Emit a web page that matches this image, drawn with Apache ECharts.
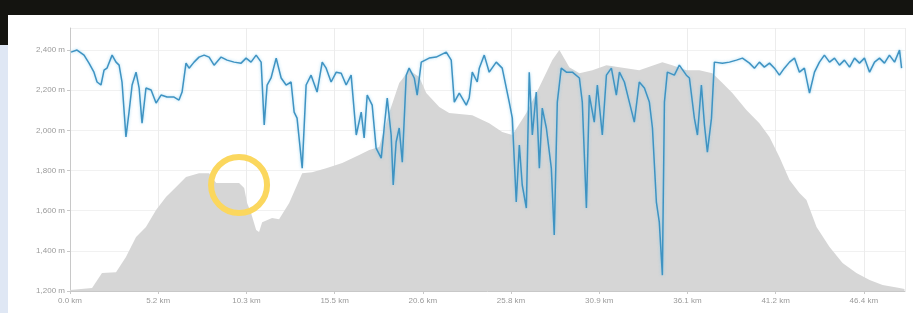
<!DOCTYPE html>
<html lang="en">
<head>
    <meta charset="UTF-8">
    <title>Elevation profile</title>
    <script src="https://cdn.jsdelivr.net/npm/echarts@6/dist/echarts.min.js"></script>
    <style>
        html, body { margin: 0; padding: 0; }
        body { width: 913px; height: 313px; position: relative; overflow: hidden; background: #dfe7f4; }
        #topbar { position: absolute; left: 0; top: 0; width: 913px; height: 15px; background: #141410; }
        #leftdark { position: absolute; left: 0; top: 15px; width: 8px; height: 30px; background: #141410; }
        #chart { position: absolute; left: 8px; top: 15px; width: 905px; height: 298px; background: #fff; }
    </style>
</head>
<body>
<div id="topbar"></div>
<div id="leftdark"></div>
<div id="chart"></div>
<script>
    // distance (km) / elevation (m) of the grey profile
    var elevKm = [0.0, 1.29, 1.87, 2.69, 3.27, 3.86, 4.44, 5.03, 5.61, 6.20, 6.78, 7.54, 8.13, 8.54, 9.88,
        10.18, 10.35, 10.58, 10.88, 11.05, 11.23, 11.81, 12.22, 12.81, 13.22, 13.57, 14.15, 14.97, 15.91,
        16.90, 17.49, 18.07, 18.65, 19.24, 19.82, 20.41, 20.82, 21.58, 22.16, 23.51, 24.50, 25.26, 25.85,
        26.67, 27.43, 28.19, 28.60, 29.18, 29.77, 30.53, 31.35, 32.11, 33.27, 34.62, 35.20, 36.02, 36.78,
        37.54, 38.13, 38.71, 39.53, 40.29, 40.88, 41.46, 42.05, 42.63, 43.04, 43.63, 44.39, 45.15, 45.96,
        46.73, 47.49, 48.48, 48.77];
    var elevM = [1205, 1215, 1290, 1294, 1369, 1469, 1519, 1603, 1668, 1718, 1768, 1787, 1787, 1738, 1738,
        1713, 1638, 1588, 1504, 1494, 1543, 1563, 1558, 1638, 1718, 1787, 1792, 1812, 1837,
        1877, 1902, 1917, 2086, 2236, 2300, 2266, 2186, 2116, 2086, 2076, 2036, 1992, 1977,
        2086, 2216, 2350, 2400, 2315, 2285, 2300, 2325, 2315, 2300, 2340, 2325, 2300, 2300,
        2285, 2236, 2186, 2101, 2036, 1967, 1867, 1753, 1688, 1653, 1519, 1419, 1339, 1290,
        1255, 1230, 1215, 1210];

    // blue trace
    var traceKm = [0.06, 0.41, 0.82, 1.11, 1.40, 1.58, 1.81, 1.99, 2.16, 2.46, 2.69, 2.87, 3.04, 3.27, 3.45,
        3.63, 3.86, 4.04, 4.21, 4.44, 4.74, 5.03, 5.32, 5.67, 6.08, 6.37, 6.55, 6.78, 6.96, 7.25, 7.54,
        7.84, 8.13, 8.42, 8.83, 9.18, 9.59, 10.00, 10.29, 10.58, 10.88, 11.17, 11.35, 11.52, 11.75,
        12.05, 12.34, 12.63, 12.92, 13.10, 13.27, 13.57, 13.80, 14.09, 14.44, 14.74, 14.97, 15.26, 15.56,
        15.85, 16.14, 16.43, 16.73, 17.02, 17.19, 17.37, 17.66, 17.89, 18.19, 18.36, 18.54, 18.77, 18.89,
        19.06, 19.24, 19.42, 19.65, 19.82, 20.12, 20.29, 20.53, 20.99, 21.40, 21.99, 22.28, 22.46, 22.75,
        23.16, 23.33, 23.51, 23.80, 23.92, 24.21, 24.50, 24.91, 25.26, 25.67, 25.85, 26.08, 26.26, 26.43,
        26.67, 26.84, 27.02, 27.25, 27.43, 27.60, 27.84, 28.13, 28.30, 28.48, 28.71, 29.01, 29.36, 29.77,
        29.94, 30.18, 30.35, 30.64, 30.82, 31.11, 31.35, 31.64, 31.93, 32.11, 32.40, 32.69, 32.98, 33.27,
        33.57, 33.86, 34.04, 34.27, 34.44, 34.62, 34.74, 34.91, 35.32, 35.61, 36.02, 36.20, 36.49, 36.67,
        36.90, 37.08, 37.25, 37.49, 37.66, 38.13, 38.54, 38.95, 39.30, 39.71, 40.00, 40.29, 40.58, 40.88,
        41.17, 41.46, 41.75, 42.05, 42.34, 42.63, 42.92, 43.22, 43.51, 43.80, 44.09, 44.39, 44.68, 44.97,
        45.26, 45.56, 45.85, 46.14, 46.43, 46.73, 47.02, 47.31, 47.60, 47.89, 48.19, 48.48, 48.60];
    var traceM = [2390, 2400, 2375, 2335, 2290, 2241, 2226, 2300, 2310, 2375, 2340, 2325, 2241, 1967, 2091,
        2226, 2290, 2211, 2036, 2211, 2201, 2136, 2176, 2166, 2166, 2151, 2191, 2335, 2310, 2340, 2365,
        2375, 2365, 2325, 2365, 2350, 2340, 2335, 2360, 2340, 2375, 2340, 2027, 2226, 2261,
        2360, 2261, 2226, 2241, 2091, 2061, 1812, 2226, 2275, 2191, 2340, 2310, 2241, 2290,
        2285, 2226, 2275, 1977, 2091, 1962, 2176, 2126, 1912, 1862, 2012, 2161, 1977, 1728,
        1942, 2012, 1842, 2275, 2310, 2261, 2176, 2340, 2360, 2365, 2390, 2350, 2141, 2186,
        2126, 2161, 2290, 2241, 2310, 2375, 2290, 2340, 2310, 2141, 2061, 1643, 1927, 1728,
        1613, 2290, 1977, 2191, 1812, 2111, 2012, 1812, 1479, 2141, 2310, 2290, 2290, 2261,
        2141, 1613, 2176, 2041, 2226, 1977, 2275, 2310, 2176, 2290, 2241, 2141, 2041, 2241,
        2211, 2141, 2012, 1643, 1543, 1279, 2141, 2290, 2275, 2325, 2275, 2261, 2061, 1977,
        2226, 2027, 1892, 2061, 2340, 2335, 2340, 2350, 2360, 2335, 2310, 2340, 2315, 2335,
        2310, 2275, 2310, 2340, 2360, 2290, 2310, 2186, 2290, 2340, 2375, 2340, 2360, 2325,
        2350, 2315, 2360, 2335, 2360, 2290, 2340, 2360, 2335, 2375, 2340, 2400, 2310];

    var xStep = 5.155;
    var xTickLabels = ['0.0 km', '5.2 km', '10.3 km', '15.5 km', '20.6 km', '25.8 km',
        '30.9 km', '36.1 km', '41.2 km', '46.4 km'];
    var yTickLabels = ['1,200 m', '1,400 m', '1,600 m', '1,800 m', '2,000 m', '2,200 m', '2,400 m'];
    var highlightPoint = [9.88, 1728];

    function pairs(xs, ys) {
        var out = [];
        for (var i = 0; i < xs.length; i++) out.push([xs[i], ys[i]]);
        return out;
    }

    var myChart = echarts.init(document.getElementById('chart'));
    var labelStyle = { color: '#9a9a9a', fontSize: 8, fontFamily: 'Liberation Sans' };

    var option = {
        animation: false,
        backgroundColor: '#fff',
        grid: { left: 62, right: 8, top: 13, bottom: 22 },
        xAxis: {
            type: 'value',
            min: 0,
            max: 48.8,
            interval: xStep,
            axisLine: { lineStyle: { color: '#c8c8c8' } },
            axisTick: { show: true, length: 3, lineStyle: { color: '#c8c8c8' } },
            axisLabel: Object.assign({
                margin: 6,
                showMaxLabel: false,
                formatter: function (v) {
                    var i = Math.round(v / xStep);
                    return Math.abs(v - i * xStep) < 0.01 && xTickLabels[i] ? xTickLabels[i] : '';
                }
            }, labelStyle),
            splitLine: { show: true, lineStyle: { color: '#ececec' } }
        },
        yAxis: {
            type: 'value',
            min: 1200,
            max: 2510,
            interval: 200,
            axisLine: { show: true, lineStyle: { color: '#c8c8c8' } },
            axisTick: { show: true, length: 3, lineStyle: { color: '#c8c8c8' } },
            axisLabel: Object.assign({
                margin: 5,
                showMaxLabel: false,
                formatter: function (v) {
                    var i = Math.round((v - 1200) / 200);
                    return yTickLabels[i] || '';
                }
            }, labelStyle),
            splitLine: { show: true, lineStyle: { color: '#f1f1f1' } }
        },
        series: [
            {
                type: 'line',
                data: pairs(elevKm, elevM),
                symbol: 'none',
                lineStyle: { width: 0 },
                areaStyle: { color: '#d6d6d6', opacity: 1, origin: 'start' },
                z: 1
            },
            {
                type: 'line',
                data: pairs(traceKm, traceM),
                symbol: 'none',
                lineStyle: {
                    color: '#3f93c2', width: 1.5,
                    shadowColor: 'rgba(120,200,240,0.7)', shadowBlur: 3
                },
                z: 3,
                markPoint: {
                    silent: true,
                    symbol: 'circle',
                    symbolSize: 56,
                    label: { show: false },
                    itemStyle: { color: 'rgba(0,0,0,0)', borderColor: '#fbd75e', borderWidth: 6 },
                    data: [{ coord: highlightPoint }]
                }
            }
        ]
    };

    myChart.setOption(option);
</script>
</body>
</html>
